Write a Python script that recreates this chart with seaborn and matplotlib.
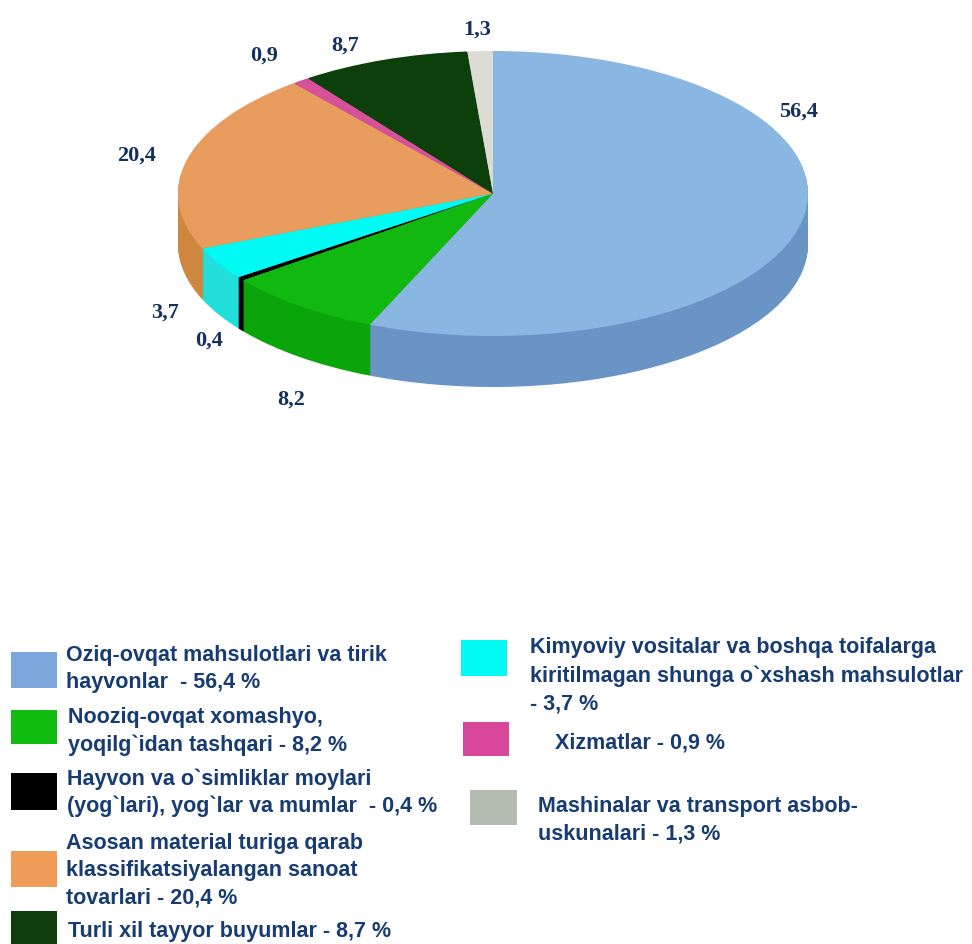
import numpy as np
import matplotlib
matplotlib.use("Agg")
import matplotlib.pyplot as plt
from matplotlib.patches import Rectangle
import seaborn as sns

values = [56.4, 8.2, 0.4, 3.7, 20.4, 0.9, 8.7, 1.3]
value_labels = ["56,4", "8,2", "0,4", "3,7", "20,4", "0,9", "8,7", "1,3"]
top_colors = ["#8ab6e2", "#10b810", "#000000", "#00fbf4", "#e89c5e", "#d6509a", "#0c3f0a", "#dcdcd4"]
side_colors = ["#6b94c6", "#0aa50a", "#000000", "#22dfdc", "#cf863f", "#b04080", "#0a330a", "#bcbcb4"]

legend_left = [
    ("Oziq-ovqat mahsulotlari va tirik", 66, 655),
    ("hayvonlar  - 56,4 %", 66, 683),
    ("Nooziq-ovqat xomashyo,", 68, 718),
    ("yoqilg`idan tashqari - 8,2 %", 68, 745),
    ("Hayvon va o`simliklar moylari", 67, 779),
    ("(yog`lari), yog`lar va mumlar  - 0,4 %", 67, 806),
    ("Asosan material turiga qarab", 66, 844),
    ("klassifikatsiyalangan sanoat", 66, 871),
    ("tovarlari - 20,4 %", 66, 898),
    ("Turli xil tayyor buyumlar - 8,7 %", 68, 932),
]
legend_right = [
    ("Kimyoviy vositalar va boshqa toifalarga", 530, 648),
    ("kiritilmagan shunga o`xshash mahsulotlar", 530, 676),
    ("- 3,7 %", 530, 704),
    ("Xizmatlar - 0,9 %", 555, 743),
    ("Mashinalar va transport asbob-", 538, 807),
    ("uskunalari - 1,3 %", 538, 834),
]
swatch_colors = ["#7ba7dc", "#10bc10", "#000000", "#ee9c58", "#0f3d0b", "#00fbf4", "#d8479a", "#b4bdb0"]
swatch_boxes = [(11, 653, 46, 36), (11, 711, 46, 34), (11, 774, 46, 37), (11, 852, 46, 36),
                (11, 912, 46, 33), (461, 641, 46, 36), (463, 723, 46, 34), (470, 791, 47, 35)]
label_positions = [(799, 112), (291, 400), (209, 341), (165, 313), (137, 156), (264, 56), (345, 46), (477, 30)]

W, H = 972, 945
CX, CY, RX, RY, DEPTH = 493, 194.5, 315, 142.5, 51

sns.set_theme(style="white")
fig = plt.figure(figsize=(W / 100, H / 100), dpi=100, facecolor="white")

ax = fig.add_axes([(CX - RX) / W, 1 - (CY + RY + DEPTH) / H, 2 * RX / W, (2 * RY + DEPTH) / H])
dy = DEPTH / RY
kw = dict(startangle=90, counterclock=False, radius=1, normalize=True)
for off in np.arange(dy, 0, -1 / RY):
    ax.pie(values, colors=side_colors, center=(0, -off),
           wedgeprops=dict(linewidth=0.6, edgecolor="none"), **kw)
ax.pie(values, colors=top_colors, center=(0, 0), wedgeprops=dict(linewidth=0), **kw)
ax.set_aspect("auto")
ax.set_xlim(-1, 1)
ax.set_ylim(-1 - dy, 1)
ax.axis("off")

sans = "Liberation Sans"
serif = "Liberation Serif"
navy = "#163c72"
for (txt, x, y) in legend_left + legend_right:
    fig.text(x / W, 1 - y / H, txt, ha="left", va="center", fontsize=15.5, fontweight="bold",
             family=sans, color=navy)
for (x, y, w, h), c in zip(swatch_boxes, swatch_colors):
    fig.add_artist(Rectangle((x / W, 1 - (y + h) / H), w / W, h / H, transform=fig.transFigure,
                             facecolor=c, edgecolor="none"))
for txt, (x, y) in zip(value_labels, label_positions):
    fig.text(x / W, 1 - y / H, txt, ha="center", va="center", fontsize=16, fontweight="bold",
             family=serif, color="#14305e")

fig.savefig("out.png", dpi=100, facecolor="white")
